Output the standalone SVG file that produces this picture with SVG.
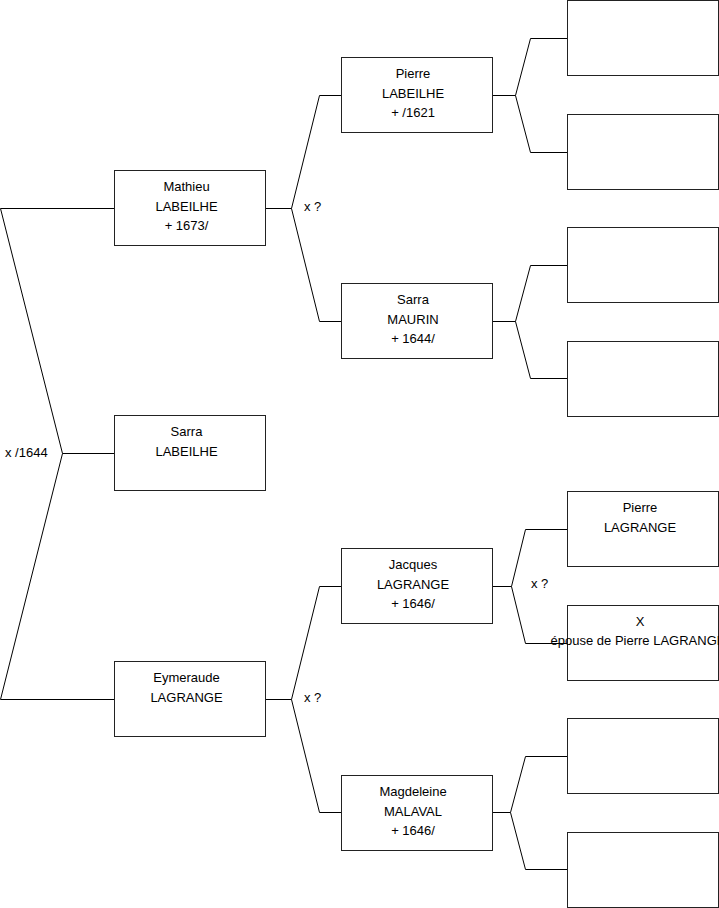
<svg xmlns="http://www.w3.org/2000/svg" width="719" height="908" viewBox="0 0 719 908">
<style>
.box{fill:#fff;stroke:#222;stroke-width:1}
.c{fill:none;stroke:#000;stroke-width:1}
text{font-family:"Liberation Sans",Arial,sans-serif;font-size:13px;fill:#000}
.t{text-anchor:middle}
</style>
<rect width="719" height="908" fill="#fff"/>
<g id="connectors">
<path class="c" d="M0.5,208.5 H114.5 M0.5,208.5 L62.5,453.5 L0.5,699.5 H114.5 M62.5,453.5 H114.5"/>
<path class="c" d="M265.5,208.5 H291.5 M341.5,95.5 H319.5 L291.5,208.5 L319.5,321.5 H341.5"/>
<path class="c" d="M265.5,699.5 H291.5 M341.5,586.5 H319.5 L291.5,699.5 L319.5,812.5 H341.5"/>
<path class="c" d="M492.5,95.5 H515.5 M567.5,38.5 H530.5 L515.5,95.5 L530.5,152.5 H567.5"/>
<path class="c" d="M492.5,321.5 H515.5 M567.5,265.5 H530.5 L515.5,321.5 L530.5,378.5 H567.5"/>
<path class="c" d="M492.5,586.5 H511.5 M567.5,529.5 H525.5 L511.5,586.5 L525.5,643.5 H567.5"/>
<path class="c" d="M492.5,812.5 H510.5 M567.5,756.5 H525.5 L510.5,812.5 L525.5,869.5 H567.5"/>
<text x="5" y="457">x /1644</text>
<text x="304" y="211">x ?</text>
<text x="304" y="702">x ?</text>
<text x="531" y="588">x ?</text>
</g>
<g id="mathieu"><rect class="box" x="114.5" y="170.5" width="151" height="75"/>
<text class="t" x="186.5" y="191">Mathieu</text><text class="t" x="186.5" y="210.5">LABEILHE</text><text class="t" x="186.5" y="230">+ 1673/</text></g>
<g id="sarra-labeilhe"><rect class="box" x="114.5" y="415.5" width="151" height="75"/>
<text class="t" x="186.5" y="436">Sarra</text><text class="t" x="186.5" y="455.5">LABEILHE</text></g>
<g id="eymeraude"><rect class="box" x="114.5" y="661.5" width="151" height="75"/>
<text class="t" x="186.5" y="682">Eymeraude</text><text class="t" x="186.5" y="701.5">LAGRANGE</text></g>
<g id="pierre-labeilhe"><rect class="box" x="341.5" y="57.5" width="151" height="75"/>
<text class="t" x="413" y="78">Pierre</text><text class="t" x="413" y="97.5">LABEILHE</text><text class="t" x="413" y="117">+ /1621</text></g>
<g id="sarra-maurin"><rect class="box" x="341.5" y="283.5" width="151" height="75"/>
<text class="t" x="413" y="304">Sarra</text><text class="t" x="413" y="323.5">MAURIN</text><text class="t" x="413" y="343">+ 1644/</text></g>
<g id="jacques"><rect class="box" x="341.5" y="548.5" width="151" height="75"/>
<text class="t" x="413" y="569">Jacques</text><text class="t" x="413" y="588.5">LAGRANGE</text><text class="t" x="413" y="608">+ 1646/</text></g>
<g id="magdeleine"><rect class="box" x="341.5" y="775.5" width="151" height="75"/>
<text class="t" x="413" y="796">Magdeleine</text><text class="t" x="413" y="815.5">MALAVAL</text><text class="t" x="413" y="835">+ 1646/</text></g>
<g id="g3-1"><rect class="box" x="567.5" y="0.5" width="151" height="75"/></g>
<g id="g3-2"><rect class="box" x="567.5" y="114.5" width="151" height="75"/></g>
<g id="g3-3"><rect class="box" x="567.5" y="227.5" width="151" height="75"/></g>
<g id="g3-4"><rect class="box" x="567.5" y="341.5" width="151" height="75"/></g>
<g id="pierre-lagrange"><rect class="box" x="567.5" y="491.5" width="151" height="75"/>
<text class="t" x="640" y="512">Pierre</text><text class="t" x="640" y="531.5">LAGRANGE</text></g>
<g id="x-epouse"><rect class="box" x="567.5" y="605.5" width="151" height="75"/>
<text class="t" x="640" y="625.5">X</text><text class="t" x="638" y="645">épouse de Pierre LAGRANGE</text></g>
<g id="g3-7"><rect class="box" x="567.5" y="718.5" width="151" height="75"/></g>
<g id="g3-8"><rect class="box" x="567.5" y="832.5" width="151" height="75"/></g>
</svg>
